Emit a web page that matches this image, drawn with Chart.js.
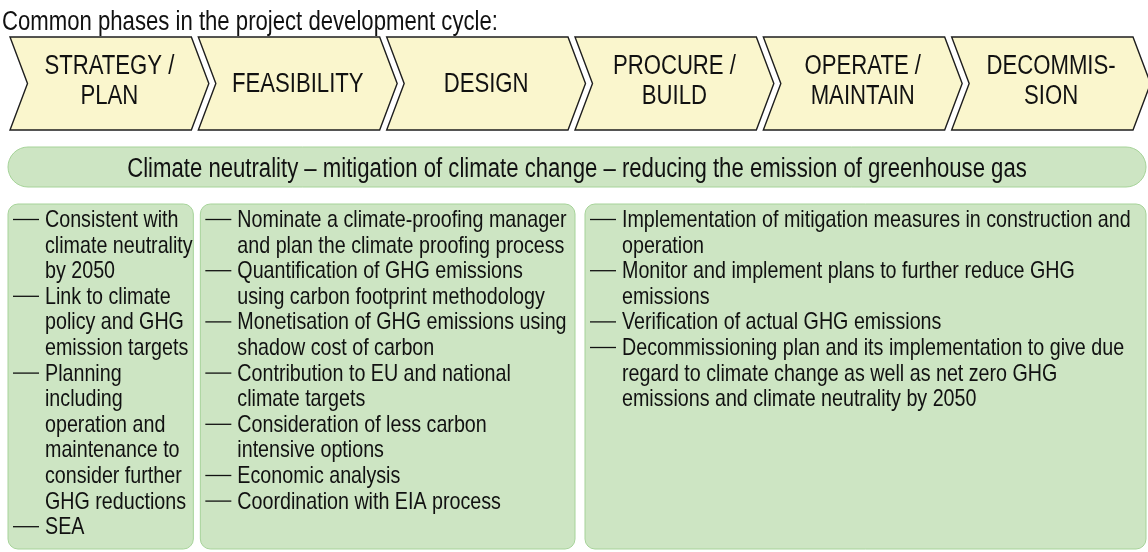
<!DOCTYPE html>
<html>
<head>
<meta charset="utf-8">
<script src="https://cdn.jsdelivr.net/npm/chart.js@4.4.1/dist/chart.umd.min.js"></script>
<style>
  html, body { margin: 0; padding: 0; background: #ffffff; }
  canvas { display: block; }
</style>
</head>
<body>
<canvas id="myChart" width="1148" height="552"></canvas>
<script>
// diagram content
const titleText = 'Common phases in the project development cycle:';
const phaseLabels = [
  ['STRATEGY /', 'PLAN'],
  ['FEASIBILITY'],
  ['DESIGN'],
  ['PROCURE /', 'BUILD'],
  ['OPERATE /', 'MAINTAIN'],
  ['DECOMMIS-', 'SION']
];
const bandText = 'Climate neutrality \u2013 mitigation of climate change \u2013 reducing the emission of greenhouse gas';
const bandSpan = [0, 6];
// which phases each box sits under (start phase, end phase)
const boxSpans = [[0, 1], [1, 3], [3, 6]];
const planItems = [
  ['Consistent with', 'climate neutrality', 'by 2050'],
  ['Link to climate', 'policy and GHG', 'emission targets'],
  ['Planning', 'including', 'operation and', 'maintenance to', 'consider further', 'GHG reductions'],
  ['SEA']
];
const designItems = [
  ['Nominate a climate-proofing manager', 'and plan the climate proofing process'],
  ['Quantification of GHG emissions', 'using carbon footprint methodology'],
  ['Monetisation of GHG emissions using', 'shadow cost of carbon'],
  ['Contribution to EU and national', 'climate targets'],
  ['Consideration of less carbon', 'intensive options'],
  ['Economic analysis'],
  ['Coordination with EIA process']
];
const buildItems = [
  ['Implementation of mitigation measures in construction and', 'operation'],
  ['Monitor and implement plans to further reduce GHG', 'emissions'],
  ['Verification of actual GHG emissions'],
  ['Decommissioning plan and its implementation to give due', 'regard to climate change as well as net zero GHG', 'emissions and climate neutrality by 2050']
];
const boxItems = [planItems, designItems, buildItems];

// styles
const chevronFill = '#faf6cd';
const chevronLine = '#1e1e1e';
const greenFill = '#cde5c3';
const greenLine = '#a6d399';
const textColor = '#111111';

// narrow font check: use Liberation Sans Narrow if it exists, else squeeze Liberation Sans
const probe = document.createElement('canvas').getContext('2d');
probe.font = '24px "Liberation Sans"';
const wideW = probe.measureText('Consistent with').width;
probe.font = '24px "Liberation Sans Narrow", "Liberation Sans"';
const narrowW = probe.measureText('Consistent with').width;
const hasNarrow = narrowW < wideW * 0.9;

function drawText(ctx, str, x, y, size, align) {
  ctx.textAlign = align;
  ctx.textBaseline = 'alphabetic';
  ctx.fillStyle = textColor;
  if (hasNarrow) {
    ctx.font = size + 'px "Liberation Sans Narrow"';
    ctx.fillText(str, x, y);
  } else {
    ctx.font = size + 'px "Liberation Sans", Arial, sans-serif';
    ctx.save();
    ctx.translate(x, y);
    ctx.scale(0.82, 1);
    ctx.fillText(str, 0, 0);
    ctx.restore();
  }
}

function roundRect(ctx, x1, y1, x2, y2, r) {
  ctx.beginPath();
  ctx.moveTo(x1 + r, y1);
  ctx.lineTo(x2 - r, y1);
  ctx.arcTo(x2, y1, x2, y1 + r, r);
  ctx.lineTo(x2, y2 - r);
  ctx.arcTo(x2, y2, x2 - r, y2, r);
  ctx.lineTo(x1 + r, y2);
  ctx.arcTo(x1, y2, x1, y2 - r, r);
  ctx.lineTo(x1, y1 + r);
  ctx.arcTo(x1, y1, x1 + r, y1, r);
  ctx.closePath();
}

const diagramPlugin = {
  id: 'phaseDiagram',
  afterDraw(chart) {
    const ctx = chart.ctx;
    const xs = chart.scales.x;
    const ys = chart.scales.y;
    const X = v => xs.getPixelForValue(v);
    const Y = v => ys.getPixelForValue(v);

    // title
    drawText(ctx, titleText, 2, Y(30), 27, 'left');

    // chevrons
    const top = Y(37), bot = Y(130), mid = (top + bot) / 2;
    const depth = 17.5, gap = 7;
    phaseLabels.forEach((lines, i) => {
      const left = X(i);
      const right = X(i + 1) - gap;
      ctx.beginPath();
      ctx.moveTo(left, top);
      ctx.lineTo(right, top);
      ctx.lineTo(right + depth, mid);
      ctx.lineTo(right, bot);
      ctx.lineTo(left, bot);
      ctx.lineTo(left + depth, mid);
      ctx.closePath();
      ctx.fillStyle = chevronFill;
      ctx.fill();
      ctx.lineWidth = 1.4;
      ctx.strokeStyle = chevronLine;
      ctx.lineJoin = 'miter';
      ctx.stroke();
      const cx = (left + right + depth) / 2;
      if (lines.length === 1) {
        drawText(ctx, lines[0], cx, Y(92), 27, 'center');
      } else {
        drawText(ctx, lines[0], cx, Y(74), 27, 'center');
        drawText(ctx, lines[1], cx, Y(104), 27, 'center');
      }
    });

    // band
    const bTop = Y(147), bBot = Y(187);
    roundRect(ctx, X(bandSpan[0]) - 2, bTop, X(bandSpan[1]) + 6, bBot, 20);
    ctx.fillStyle = greenFill;
    ctx.fill();
    ctx.lineWidth = 1;
    ctx.strokeStyle = greenLine;
    ctx.stroke();
    drawText(ctx, bandText, (X(bandSpan[0]) + X(bandSpan[1]) + 4) / 2, Y(177), 27, 'center');

    // boxes
    const boxInset = [[-2, -5], [2, 0], [10, 6]];
    const boxTop = Y(204), boxBot = Y(549);
    const lineH = 25.6;
    boxSpans.forEach((span, k) => {
      const x1 = X(span[0]) + boxInset[k][0];
      const x2 = X(span[1]) + boxInset[k][1];
      roundRect(ctx, x1, boxTop, x2, boxBot, 10);
      ctx.fillStyle = greenFill;
      ctx.fill();
      ctx.lineWidth = 1;
      ctx.strokeStyle = greenLine;
      ctx.stroke();
      let y = Y(227);
      boxItems[k].forEach(item => {
        // dash marker
        ctx.beginPath();
        ctx.moveTo(x1 + 5, y - 7.5);
        ctx.lineTo(x1 + 31, y - 7.5);
        ctx.lineWidth = 1.3;
        ctx.strokeStyle = textColor;
        ctx.stroke();
        item.forEach(line => {
          drawText(ctx, line, x1 + 37, y, 24, 'left');
          y += lineH;
        });
      });
    });
  }
};

const config = {
  type: 'scatter',
  data: { datasets: [] },
  options: {
    responsive: false,
    animation: false,
    devicePixelRatio: 1,
    layout: { padding: { left: 10, right: 8, top: 0, bottom: 0 } },
    scales: {
      x: { type: 'linear', min: 0, max: 6, display: false },
      y: { type: 'linear', min: 0, max: 552, reverse: true, display: false }
    },
    plugins: {
      legend: { display: false },
      tooltip: { enabled: false }
    }
  },
  plugins: [diagramPlugin]
};

const myChart = new Chart(document.getElementById('myChart'), config);
</script>
</body>
</html>
